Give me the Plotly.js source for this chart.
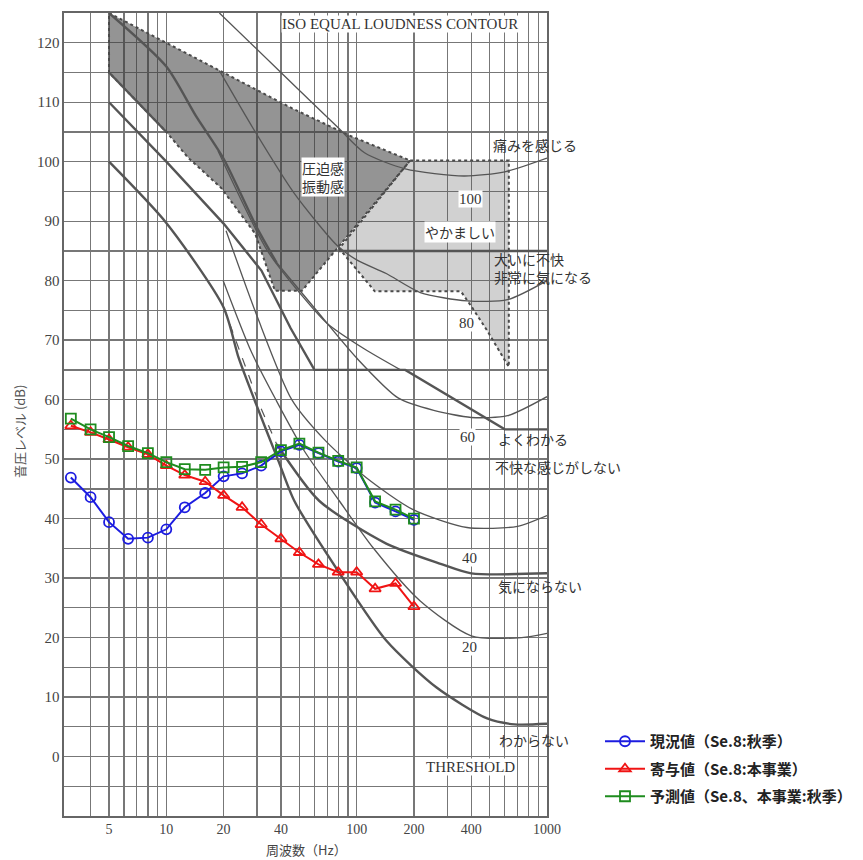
<!DOCTYPE html>
<html><head><meta charset="utf-8">
<script src="https://cdn.plot.ly/plotly-3.0.1.min.js"></script>
<style>body{margin:0;background:#fff}#chart{width:863px;height:860px}</style>
</head><body><div id="chart"></div>
<script>
// ---- measured series (1/3 octave bands) ----
const bandHz  = [3.15,4,5,6.3,8,10,12.5,16,20,25,31.5,40,50,63,80,100,125,160,200];
const genkyo  = [46.9,43.6,39.4,36.6,36.8,38.2,41.9,44.3,47.1,47.6,48.9,51.3,52.4,51.0,49.6,48.5,42.7,41.2,39.8];
const kiyo    = [55.6,54.5,53.3,52.0,50.8,48.9,47.3,46.2,43.9,41.9,39.0,36.6,34.3,32.3,31.0,31.0,28.2,29.1,25.2];
const yosoku  = [56.8,55.0,53.7,52.2,51.0,49.5,48.3,48.2,48.6,48.7,49.5,51.5,52.6,51.1,49.7,48.6,42.9,41.5,40.0];
const seriesNames = ['現況値（Se.8:秋季）','寄与値（Se.8:本事業）','予測値（Se.8、本事業:秋季）'];

// ---- background contour lines ----
const iso100F = [19,40,80,110,180,366,600,1000];
const iso100L = [125,115,105.7,101.5,98.8,97.6,98.3,100.6];
const iso80F  = [19,28.7,46.7,79,100,143,216,380,620,1000];
const iso80L  = [115.3,105.5,94.8,85.9,83.5,81.2,78,76.6,76.8,80];
const iso60F  = [18.7,34,52.8,70,110,170];
const iso60L  = [101.8,85,77.1,72.8,68.5,65];
const iso40F  = [20.6,30,45.6,68.5,112,198,380,700,1000];
const iso40L  = [88.4,74,60,53.1,46.9,41.5,38.5,38.7,40.5];
const iso20F  = [19.9,28,37.9,53,81,122,215,400,735,1000];
const iso20L  = [80,68,59.8,51.4,43,35.1,26.2,20.3,20,20.7];
const thrF    = [5,10,20,24,29,38.8,47,81,143,263,485,676,1000];
const thrL    = [100,89.7,75.5,67,60,49.7,43,30.9,19.5,11.6,6.4,5.4,5.5];
const topAF   = [5,10,14.3,20,29.8,38];
const topAL   = [125,116,107.7,100.5,89,83];
const topBF   = [38,59.7,100,165,254,400,620,1000];
const topBL   = [83,75.5,67,60.3,58.2,57,57.3,60.5];
const yokuF   = [5,10,20,31.6,45,60,180,600,1000];
const yokuL   = [110,100,89.6,81.7,72,65,65,55,55];
const kiniDashF = [20,26.3,31,38];
const kiniDashL = [75.5,65,59,52.5];
const kiniF   = [38,63.5,143,276,400,1000];
const kiniL   = [52.5,43,35.8,32.4,30.8,30.8];
const fukaiF  = [80,1000];
const fukaiL  = [85,85];
const edgeF   = [5,10];
const edgeL   = [115,105];
// shaded zones
const darkF  = [5,10,20,45.6,91.6,191,51.6,37.2,29.3,19.4,13,10,5,5];
const darkL  = [125,120,115,109,104.4,100.2,78.3,78.3,87.9,95.6,100.7,105,115,125];
const lightF = [191,630,630,485,404,353,124.6,81,191];
const lightL = [100.2,100.2,65.5,71.6,75.5,78.2,78.2,85.4,100.2];

// ---- axis ticks ----
const xTicks = [4,5,6,7,8,9,10,20,30,40,50,60,70,80,90,100,200,300,400,500,600,700,800,900,1000];
const xLabels = ['','5','','','','','10','20','','40','','','','','','100','200','','400','','','','','','1000'];
const yTicks = []; const yLabels = [];
for (let v = -5; v <= 125; v += 5) { yTicks.push(v); yLabels.push((v % 10 === 0 && v >= 0 && v <= 120) ? String(v) : ''); }

// ---- in-plot labels ----
const labelTexts = {
  iso:'ISO EQUAL LOUDNESS CONTOUR', pain:'痛みを感じる', p100:'100', yakamashii:'やかましい',
  oini:'大いに不快<br>非常に気になる', p80:'80', p60:'60', yoku:'よくわかる',
  fukai:'不快な感じがしない', p40:'40', kini:'気にならない', p20:'20', wakaranai:'わからない',
  thr:'THRESHOLD', appaku:'圧迫感<br>振動感'
};

const G = '#555';
function ln(x, y, w, opt) {
  return Object.assign({x:x, y:y, mode:'lines', type:'scatter', hoverinfo:'skip', showlegend:false,
    line:{color:G, width:w, shape:'spline', smoothing:0.7}}, opt||{});
}
const traces = [
  {x:darkF, y:darkL, type:'scatter', mode:'lines', fill:'toself', fillcolor:'rgba(60,60,60,0.55)',
   line:{color:'#4a4a4a', width:2, dash:'dot'}, showlegend:false, hoverinfo:'skip'},
  {x:lightF, y:lightL, type:'scatter', mode:'lines', fill:'toself', fillcolor:'rgba(90,90,90,0.28)',
   line:{color:'#4a4a4a', width:2, dash:'dot'}, showlegend:false, hoverinfo:'skip'},
  ln(iso100F, iso100L, 1.3),
  ln(iso80F, iso80L, 1.3),
  ln(iso60F, iso60L, 1.3),
  ln(iso40F, iso40L, 1.3),
  ln(iso20F, iso20L, 1.3),
  ln(thrF, thrL, 2.4),
  ln(topAF, topAL, 2.4),
  ln(topBF, topBL, 1.4),
  ln(yokuF, yokuL, 2.4, {line:{color:G, width:2.4}}),
  ln(kiniDashF, kiniDashL, 1.2, {line:{color:G, width:1.2, dash:'dash'}}),
  ln(kiniF, kiniL, 2.4),
  ln(fukaiF, fukaiL, 2.4, {line:{color:G, width:2.4}}),
  ln(edgeF, edgeL, 2.4, {line:{color:G, width:2.4}}),
  {x:bandHz, y:genkyo, name:seriesNames[0], legendgroup:'a', type:'scatter', mode:'lines+markers',
   line:{color:'#1c1ce0', width:2}, marker:{symbol:'circle-open', size:10, color:'#1c1ce0', line:{width:1.8}}},
  {x:bandHz, y:kiyo, name:seriesNames[1], legendgroup:'b', type:'scatter', mode:'lines+markers',
   line:{color:'#f01414', width:2}, marker:{symbol:'triangle-up-open', size:10, color:'#f01414', line:{width:1.8}}},
  {x:bandHz, y:yosoku, name:seriesNames[2], legendgroup:'c', type:'scatter', mode:'lines+markers',
   line:{color:'#1e8c1e', width:2}, marker:{symbol:'square-open', size:10, color:'#1e8c1e', line:{width:1.8}}}
];

// pixel helpers for label placement (plot area 64..547 x 13..816)
const PX = x => (x - 64) / 483;
const PY = y => (816 - y) / 803;
const serif = 'Liberation Serif, DejaVu Serif, serif';
const jp = 'Noto Sans CJK JP, sans-serif';
function ann(key, x, y, fam, size, bg, extra) {
  return Object.assign({text:labelTexts[key], xref:'paper', yref:'paper', x:PX(x), y:PY(y),
    showarrow:false, font:{family:fam, size:size, color:'#333'}, bgcolor:bg||'rgba(0,0,0,0)',
    borderpad:0, xanchor:'center', yanchor:'middle'}, extra||{});
}
const L = {xanchor:'left', align:'left'};
const annotations = [
  ann('iso', 400, 24, serif, 15, '#fff'),
  ann('pain', 492, 145, jp, 14, null, L),
  ann('p100', 470, 199, serif, 15, '#fff'),
  ann('yakamashii', 460, 232, jp, 14, '#fff'),
  ann('oini', 493, 268, jp, 14, null, L),
  ann('p80', 466, 323, serif, 15, '#fff'),
  ann('p60', 467, 437, serif, 15, '#fff'),
  ann('yoku', 497, 439, jp, 14, null, L),
  ann('fukai', 494, 467, jp, 14, null, L),
  ann('p40', 469, 558, serif, 15, '#fff'),
  ann('kini', 497, 586, jp, 14, null, L),
  ann('p20', 469, 647, serif, 15, '#fff'),
  ann('wakaranai', 498, 740, jp, 14, null, L),
  ann('thr', 470, 767, serif, 15, '#fff'),
  ann('appaku', 323, 177, jp, 14, '#fff'),
  {text:'周波数（Hz）', xref:'paper', yref:'paper', x:PX(306), y:PY(849), showarrow:false,
   font:{family:jp, size:13, color:'#444'}, xanchor:'center', yanchor:'middle'},
  {text:'音圧レベル (dB)', xref:'paper', yref:'paper', x:PX(19), y:PY(432), showarrow:false, textangle:-90,
   font:{family:jp, size:13, color:'#555'}, xanchor:'center', yanchor:'middle'}
];

const layout = {
  width:863, height:860, paper_bgcolor:'#fff', plot_bgcolor:'#fff',
  margin:{l:64, r:316, t:13, b:44},
  xaxis:{type:'log', range:[Math.log10(2.9), 3], tickvals:xTicks, ticktext:xLabels, showgrid:true,
    gridcolor:'#777', gridwidth:1.3, showline:true, mirror:true, linecolor:'#666', linewidth:1.6,
    ticks:'', zeroline:false, tickfont:{family:serif, size:14, color:'#444'}},
  yaxis:{range:[-10, 125], tickvals:yTicks, ticktext:yLabels, showgrid:true,
    gridcolor:'#777', gridwidth:1.3, showline:true, mirror:true, linecolor:'#666', linewidth:1.6,
    ticks:'', zeroline:false, tickfont:{family:serif, size:15, color:'#444'}},
  showlegend:true,
  legend:{xref:'container', yref:'container', x:600/863, y:1 - 725/860, xanchor:'left', yanchor:'top',
    bgcolor:'rgba(0,0,0,0)', font:{family:jp, size:15, color:'#222', weight:'bold'}, itemwidth:40, tracegroupgap:5},
  annotations:annotations
};
Plotly.newPlot('chart', traces, layout, {displayModeBar:false, staticPlot:true});
</script></body></html>
